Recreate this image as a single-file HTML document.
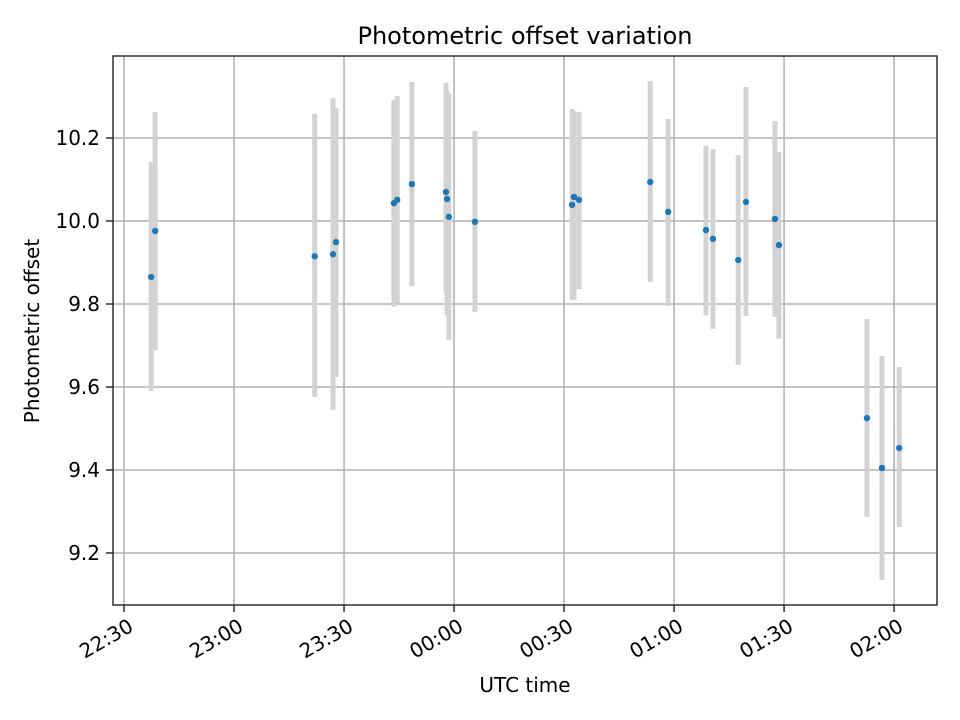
<!DOCTYPE html>
<html><head><meta charset="utf-8"><style>body{margin:0;background:#fff}svg{display:block}text{font-family:"DejaVu Sans","Liberation Sans",sans-serif;fill:#000}</style></head>
<body>
<svg id="chart" width="960" height="720" xmlns="http://www.w3.org/2000/svg">
<rect width="960" height="720" fill="#fff"/>
<g id="grid"></g>
<g id="bars"></g>
<g id="pts"></g>
<rect x="113" y="56" width="824" height="549" fill="none" stroke="#222" stroke-width="1.4"/>
<g id="axes"></g>
<text x="525" y="44" font-size="24" text-anchor="middle">Photometric offset variation</text>
<text x="525" y="692" font-size="20" text-anchor="middle">UTC time</text>
<text x="0" y="0" font-size="20" text-anchor="middle" transform="translate(39,331) rotate(-90)">Photometric offset</text>
</svg>
<script>
// minutes after 22:30 UTC
const times=[7.4,8.5,52.0,57.0,57.8,73.6,74.5,78.5,87.8,88.1,88.6,95.7,122.2,122.7,124.1,143.5,148.4,158.7,160.6,167.5,169.6,177.5,178.6,202.6,206.7,211.4];
const values=[9.865,9.976,9.915,9.920,9.949,10.043,10.051,10.089,10.070,10.053,10.010,9.998,10.039,10.058,10.051,10.094,10.022,9.978,9.957,9.906,10.046,10.005,9.942,9.525,9.405,9.453];
const upper=[10.142,10.263,10.258,10.296,10.272,10.292,10.301,10.335,10.333,10.313,10.306,10.217,10.270,10.265,10.263,10.337,10.246,10.181,10.173,10.159,10.323,10.241,10.166,9.764,9.675,9.648];
const lower=[9.590,9.689,9.576,9.545,9.624,9.793,9.802,9.843,9.827,9.773,9.713,9.781,9.810,9.810,9.836,9.853,9.795,9.773,9.740,9.653,9.771,9.769,9.716,9.287,9.135,9.263];
const xTickLabels=["22:30","23:00","23:30","00:00","00:30","01:00","01:30","02:00"];
const xTickMinutes=[0,30,60,90,120,150,180,210];
const yTicks=[9.2,9.4,9.6,9.8,10.0,10.2];
const NS="http://www.w3.org/2000/svg";
const X0=113,X1=937,Y0=56,Y1=605;
const xMin=-3.0,xMax=221.7,yMin=9.0747,yMax=10.3976;
const xs=m=>X0+(m-xMin)/(xMax-xMin)*(X1-X0);
const ys=v=>Y1-(v-yMin)/(yMax-yMin)*(Y1-Y0);
function mk(tag,attrs,parent){const e=document.createElementNS(NS,tag);for(const k in attrs)e.setAttribute(k,attrs[k]);parent.appendChild(e);return e;}
const grid=document.getElementById('grid'),axes=document.getElementById('axes'),bars=document.getElementById('bars'),pts=document.getElementById('pts');
xTickMinutes.forEach((m,i)=>{const x=xs(m);
 const g=mk('line',{x1:x,x2:x,y1:Y0,y2:Y1,stroke:'#b0b0b0','stroke-width':1.5},grid);
 
 
 const t=mk('line',{x1:x,x2:x,y1:Y1,y2:Y1+7,stroke:'#222','stroke-width':1.4},axes);
 
 
 const l=mk('text',{x:0,y:0,dy:'0.76em','font-size':20,'text-anchor':'end',transform:`translate(${x+3},${Y1+12}) rotate(-30)`},axes);
 l.textContent=xTickLabels[i];
 
 
});
yTicks.forEach(v=>{const y=ys(v);
 const g=mk('line',{x1:X0,x2:X1,y1:y,y2:y,stroke:'#b0b0b0','stroke-width':1.5},grid);
 
 
 const t=mk('line',{x1:X0-7,x2:X0,y1:y,y2:y,stroke:'#222','stroke-width':1.4},axes);
 
 
 const l=mk('text',{x:X0-13,y:y+7,'font-size':20,'text-anchor':'end'},axes);
 l.textContent=v.toFixed(1);
 
 
});
times.forEach((m,i)=>{const x=xs(m);
 const b=mk('line',{x1:x,x2:x,y1:ys(upper[i]),y2:ys(lower[i]),stroke:'#d3d3d3','stroke-width':5},bars);
 
 
});
times.forEach((m,i)=>{
 const c=mk('circle',{cx:xs(m),cy:ys(values[i]),r:3.2,fill:'#1f77b4'},pts);
 
 
});
</script>
</body></html>
